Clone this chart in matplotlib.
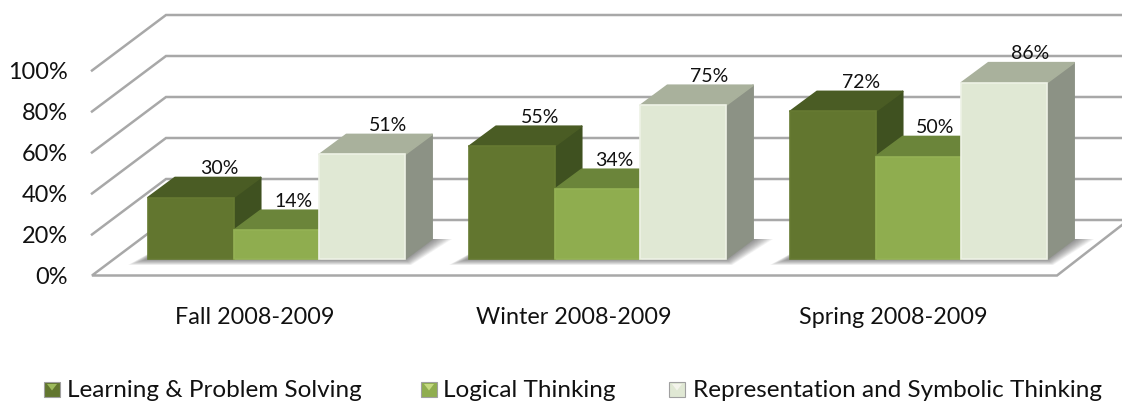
import matplotlib
matplotlib.use("Agg")
from matplotlib import pyplot as plt
from matplotlib.patches import Polygon, Rectangle

plt.rcParams['font.family'] = ['Lato', 'DejaVu Sans']

categories = ["Fall 2008-2009", "Winter 2008-2009", "Spring 2008-2009"]
series_names = ["Learning & Problem Solving", "Logical Thinking", "Representation and Symbolic Thinking"]
learning = [30, 55, 72]
logical = [14, 34, 50]
symbolic = [51, 75, 86]
y_ticks = [0, 20, 40, 60, 80, 100]

front_colors = ["#62762F", "#8FAD4F", "#E0E8D4"]
top_colors = ["#4A5C24", "#6B853A", "#A9B19C"]
side_colors = ["#3F5120", "#57702C", "#8C9285"]
edge_colors = ["#667A32", "#94B255", "#EEF2E6"]
mark_colors = ["#9DBB5C", "#C5DA80", "#F4F4EC"]
grid_color = "#A8A8A8"

# ejes en pixeles para x, en % para y (0% = base de las barras)
W, H = 1122, 404
PX = 2.05
BASE = 259

fig = plt.figure(figsize=(W / 100, H / 100), dpi=100)
ax = fig.add_axes([0, 0, 1, 1])
ax.set_xlim(0, W)
ax.set_ylim((BASE - H) / PX, BASE / PX)
ax.axis("off")


def dy(px):
    return px / PX


# paredes y piso
wall_front = dy(BASE - 275.5)
wall_back = dy(BASE - 220)
for t in y_ticks[1:]:
    ax.plot([92, 166, W], [wall_front + t, wall_back + t, wall_back + t], color=grid_color, lw=1.8,
            solid_joinstyle="miter", zorder=1)
ax.plot([W, 1057, 92, 166, W], [dy(BASE - 225), wall_front, wall_front, wall_back, wall_back],
        color=grid_color, lw=1.8, solid_joinstyle="miter", zorder=1.6)

BAR_W = 85.7
GROUP_STEP = 321
START = 148
DEPTH_X = 27
DEPTH_Y = dy(20)
label_dx = [28, 17, 26]
cat_x = [255, 574, 893]
all_values = [learning, logical, symbolic]

for i, cat in enumerate(categories):
    left = START + i * GROUP_STEP
    right = left + 3 * BAR_W

    # sombra en el piso
    for k in range(14):
        grow = 20 - 1.5 * k
        ax.add_patch(Polygon([(left - grow, -dy(grow * 0.3)),
                              (right + grow * 0.3, -dy(grow * 0.3)),
                              (right + DEPTH_X + grow, DEPTH_Y),
                              (left + DEPTH_X, DEPTH_Y)],
                             closed=True, fc="#444444", ec="none", alpha=0.06, zorder=2))

    for j in range(3):
        val = all_values[j][i]
        x0 = left + j * BAR_W
        x1 = x0 + BAR_W
        z = 3 + j * 0.1
        ax.add_patch(Polygon([(x1, 0), (x1 + DEPTH_X, DEPTH_Y), (x1 + DEPTH_X, val + DEPTH_Y), (x1, val)],
                             closed=True, fc=side_colors[j], ec=side_colors[j], lw=1.2, joinstyle="round", zorder=z))
        ax.add_patch(Polygon([(x0, val), (x1, val), (x1 + DEPTH_X, val + DEPTH_Y), (x0 + DEPTH_X, val + DEPTH_Y)],
                             closed=True, fc=top_colors[j], ec=top_colors[j], lw=1.2, joinstyle="round", zorder=z))
        ax.add_patch(Rectangle((x0, 0), BAR_W, val, fc=front_colors[j], ec=edge_colors[j], lw=1.2, zorder=z + 0.05))
        ax.text(x0 + BAR_W / 2 + label_dx[j], val + dy(29), f"{val}%", ha="center", va="center",
                fontsize=14, color="#111111", zorder=6)

    ax.text(cat_x[i], dy(BASE - 318), cat, ha="center", va="center", fontsize=16.8, color="#111111")

for t in y_ticks:
    ax.text(68, wall_front + t - dy(2), f"{t}%", ha="right", va="center", fontsize=16.9, color="#111111")

# leyenda
legend_mark_x = [44, 421, 669]
legend_text_x = [67, 443, 693]
legend_y = dy(BASE - 389.5)
for j, name in enumerate(series_names):
    mx = legend_mark_x[j]
    ax.add_patch(Rectangle((mx, legend_y - dy(7.5)), 16, dy(15), fc=front_colors[j], ec="#A0A0A0", lw=0.8, zorder=5))
    ax.add_patch(Polygon([(mx + 3, legend_y + dy(5.5)), (mx + 13, legend_y + dy(5.5)), (mx + 8, legend_y - dy(1))],
                         closed=True, fc=mark_colors[j], ec="none", zorder=6))
    ax.text(legend_text_x[j], legend_y - dy(1), name, ha="left", va="center", fontsize=17.5, color="#111111")

fig.savefig("out.png", dpi=100)
